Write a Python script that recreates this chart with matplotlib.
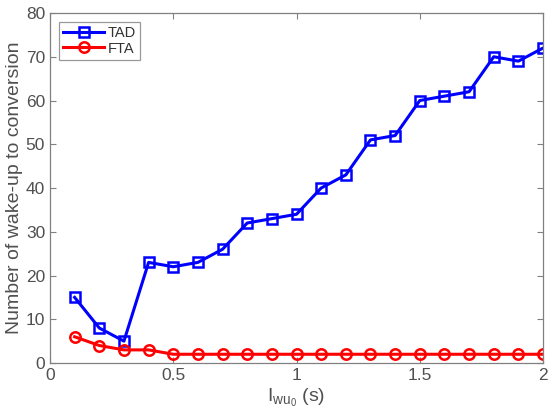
import matplotlib
matplotlib.use("Agg")
import matplotlib.pyplot as plt

plt.rcParams['font.family'] = ['Liberation Sans', 'DejaVu Sans']
plt.rcParams['mathtext.fontset'] = 'custom'
plt.rcParams['mathtext.rm'] = 'Liberation Sans'
plt.rcParams['mathtext.it'] = 'Liberation Sans'

# wake-up interval (s)
x_vals = [0.1, 0.2, 0.3, 0.4, 0.5, 0.6, 0.7, 0.8, 0.9, 1.0,
          1.1, 1.2, 1.3, 1.4, 1.5, 1.6, 1.7, 1.8, 1.9, 2.0]
tad = [15, 8, 5, 23, 22, 23, 26, 32, 33, 34,
       40, 43, 51, 52, 60, 61, 62, 70, 69, 72]
fta = [6, 4, 3, 3, 2, 2, 2, 2, 2, 2,
       2, 2, 2, 2, 2, 2, 2, 2, 2, 2]

x_ticks = [0, 0.5, 1, 1.5, 2]
x_tick_labels = ['0', '0.5', '1', '1.5', '2']
y_ticks = [0, 10, 20, 30, 40, 50, 60, 70, 80]

axis_grey = '#808080'
text_grey = '#505050'

fig = plt.figure(figsize=(5.53, 4.2), dpi=100)
ax = fig.add_axes([0.0904, 0.1357, 0.8916, 0.8333])

ax.plot(x_vals, tad, color='#0000ff', linewidth=2.2, marker='s', markersize=6.5,
        markerfacecolor='none', markeredgewidth=1.8, label='TAD')
ax.plot(x_vals, fta, color='#ff0000', linewidth=2.2, marker='o', markersize=7.5,
        markerfacecolor='none', markeredgewidth=1.8, label='FTA')

ax.set_xlim(0, 2)
ax.set_ylim(0, 80)
ax.set_xticks(x_ticks)
ax.set_xticklabels(x_tick_labels)
ax.set_yticks(y_ticks)
ax.tick_params(direction='in', length=4, width=0.8, colors=axis_grey,
               labelcolor=text_grey, labelsize=12.5, top=True, right=True)
for sp in ax.spines.values():
    sp.set_color(axis_grey)
    sp.set_linewidth(0.9)

ax.set_xlabel(r'$\mathrm{I}_{\mathrm{wu}_0}$ (s)', fontsize=14, color=text_grey, labelpad=3)
ax.set_ylabel('Number of wake-up to conversion', fontsize=14, color=text_grey, labelpad=2)

leg = ax.legend(loc='upper left', fontsize=10.5, frameon=True, fancybox=False,
                edgecolor=axis_grey, handlelength=2.8, handletextpad=0.25,
                borderpad=0.3, labelspacing=0.1, borderaxespad=0.6)
leg.get_frame().set_linewidth(0.9)
for t in leg.get_texts():
    t.set_color('#333333')

fig.savefig('out.png', dpi=100)
